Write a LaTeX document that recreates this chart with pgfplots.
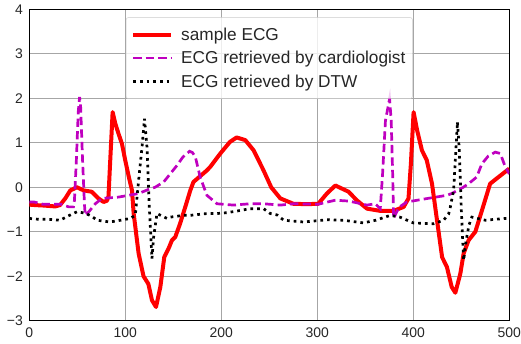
\documentclass[border=0pt]{standalone}
\usepackage{fontspec}
\setmainfont{Liberation Sans}
\usepackage{pgfplots}
\pgfplotsset{compat=1.18}
\definecolor{mag}{rgb}{0.75,0,0.75}
\begin{document}
\begin{tikzpicture}
\begin{axis}[
  width=480bp, height=311.5bp, scale only axis,
  xmin=0, xmax=500, ymin=-3, ymax=4,
  xtick={0,100,200,300,400,500},
  xticklabels={0,100,200,300,400,500},
  ytick={-3,-2,-1,0,1,2,3,4},
  yticklabels={−3,−2,−1,0,1,2,3,4},
  major tick length=0pt,
  tick label style={font=\fontsize{14}{16}\selectfont, color=black!85},
  xticklabel style={yshift=-3bp},
  yticklabel style={xshift=-3bp},
  grid=major,
  major grid style={color=black!35, line width=1bp},
  axis line style={line width=1.2bp},
  legend cell align=left,
  legend style={at={(0.5,0.974)}, anchor=north, draw=black!20, rounded corners=2bp,
    fill=white, fill opacity=0.8, text opacity=1,
    font=\fontsize{17.3}{20}\selectfont, text=black!85,
    inner xsep=5bp, inner ysep=8bp, row sep=5.5bp, column sep=6bp},
  legend image code/.code={\draw[#1] (0bp,0bp) -- (38bp,0bp);},
]
\addplot[color=red, line width=4bp, line join=round] coordinates {
(0,-0.39)(6,-0.4)(15,-0.41)(27,-0.43)(32,-0.4)(37.5,-0.25)(42.7,-0.07)(49.7,0.0)(56.6,-0.07)(65,-0.1)(72,-0.25)(77.4,-0.33)(81,-0.3)(82.5,-0.2)(84.3,0.6)(86.8,1.69)(89.6,1.43)(93,1.2)(96.5,0.98)(100,0.6)(104,0.2)(107,-0.07)(108.7,-0.59)(113.9,-1.49)(119,-2.0)(124,-2.17)(127.8,-2.54)(132,-2.69)(136.5,-2.24)(140.6,-1.57)(145,-1.38)(148.6,-1.19)(152,-1.12)(157,-0.82)(162.5,-0.44)(167.7,-0.07)(171,0.12)(178,0.25)(185,0.38)(188.5,0.46)(199,0.76)(209,1.02)(216,1.12)(225,1.06)(233.7,0.83)(244,0.38)(252,0.0)(261.5,-0.25)(275,-0.37)(289,-0.38)(301,-0.37)(310,-0.14)(318.8,0.04)(325.7,-0.03)(332.6,-0.1)(341,-0.29)(351.8,-0.48)(365.6,-0.53)(379.5,-0.53)(390,-0.44)(395,-0.25)(397.5,0.53)(400.3,1.69)(404,1.28)(409,0.83)(414,0.61)(419.5,0.08)(424.7,-0.74)(430,-1.57)(435,-1.79)(440,-2.24)(443.8,-2.37)(449,-1.94)(452.4,-1.49)(457.6,-1.19)(464.6,-1.0)(471.5,-0.52)(480,0.08)(487,0.2)(500,0.42)
};
\addlegendentry{sample ECG}
\addplot[color=mag, line width=2.7bp, dash pattern=on 8.3bp off 4.2bp] coordinates {
(0,-0.33)(5,-0.33)(14,-0.38)(25,-0.38)(33,-0.38)(41,-0.44)(46,-0.44)(47,-0.3)(49,0.6)(51,1.7)(52.4,2.03)(53.5,1.8)(55.5,0.6)(57.5,-0.4)(58.3,-0.63)(62,-0.55)(68.75,-0.37)(75.7,-0.25)(93,-0.22)(114,-0.14)(126,-0.03)(131,0.0)(140,0.12)(153.8,0.49)(160,0.68)(167,0.81)(170,0.78)(173,0.68)(178,0.23)(185,-0.18)(195.5,-0.37)(212.8,-0.4)(230,-0.37)(244,-0.37)(261.5,-0.4)(275,-0.37)(301,-0.38)(318.8,-0.29)(333,-0.31)(351.8,-0.4)(360.4,-0.37)(365.6,-0.48)(368,0.3)(371,1.5)(375.3,1.99)(377,1.5)(378.5,0.3)(379.5,-0.7)(385,-0.45)(393.4,-0.33)(415,-0.25)(435,-0.18)(440,-0.14)(452,0.0)(457.6,0.08)(466,0.23)(471.5,0.53)(478,0.7)(485.4,0.79)(490.6,0.76)(495.8,0.46)(500,0.3)
};
\addlegendentry{ECG retrieved by cardiologist}
\addplot[color=black, line width=2.7bp, dash pattern=on 2.7bp off 4bp] coordinates {
(0,-0.7)(10,-0.72)(20,-0.72)(32,-0.74)(40,-0.65)(49.7,-0.55)(58,-0.58)(65,-0.65)(70.5,-0.74)(84,-0.78)(95,-0.74)(105,-0.7)(110.4,-0.63)(113.9,0.16)(117.4,0.9)(120,1.54)(122.6,0.9)(125,-0.44)(127.8,-1.6)(129.5,-1.12)(133,-0.59)(143.4,-0.7)(147,-0.67)(160.8,-0.63)(167.7,-0.63)(185,-0.59)(195.5,-0.59)(206,-0.57)(220,-0.52)(230,-0.48)(244,-0.48)(251,-0.59)(258,-0.62)(265,-0.74)(285.7,-0.78)(310,-0.73)(327,-0.74)(348,-0.8)(361,-0.74)(376,-0.63)(386,-0.67)(400,-0.8)(421,-0.82)(431.6,-0.74)(436.8,-0.6)(438.5,-0.45)(442,-0.07)(446,1.47)(448,0.8)(450,-0.5)(452.4,-1.64)(455,-1.2)(458,-0.85)(461,-0.67)(475,-0.74)(485,-0.72)(496,-0.7)(500,-0.7)
};
\addlegendentry{ECG retrieved by DTW}
\end{axis}
\pgfresetboundingbox
\path[use as bounding box] ([shift={(-29.3bp,-22.3bp)}]current axis.south west) rectangle ([shift={(11.7bp,9.3bp)}]current axis.north east);
\end{tikzpicture}
\end{document}
